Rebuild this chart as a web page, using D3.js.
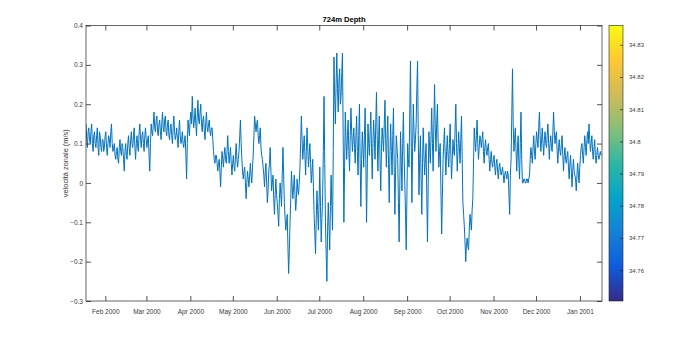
<!DOCTYPE html>
<html>
<head>
<meta charset="utf-8">
<script src="https://cdn.jsdelivr.net/npm/d3@7"></script>
<style>
  html, body { margin: 0; padding: 0; background: #fff; }
  svg { display: block; }
  text { font-family: "Liberation Sans", Arial, Helvetica, sans-serif; }
</style>
</head>
<body>
<svg id="fig" width="700" height="339"></svg>
<script>
// Zonal velocity at 724 m depth, sampled twice a day from 18 Jan 2000:
// velocity = readings at the start of each day, velocityHalf = readings 12 h later
const startDate = Date.UTC(2000, 0, 18, 9);
const velocity = [
  0.15,0.09,0.14,0.10,0.15,0.08,0.13,0.09,0.14,0.07,
  0.12,0.08,0.11,0.09,0.13,0.07,0.12,0.09,0.15,0.08,
  0.10,0.06,0.09,0.05,0.11,0.07,0.09,0.03,0.10,0.06,
  0.12,0.07,0.13,0.09,0.14,0.06,0.12,0.08,0.15,0.09,
  0.13,0.08,0.14,0.09,0.12,0.03,0.15,0.12,0.18,0.13,
  0.17,0.12,0.16,0.11,0.18,0.13,0.17,0.12,0.16,0.11,
  0.15,0.10,0.17,0.11,0.14,0.09,0.16,0.10,0.13,0.09,
  0.12,0.01,0.16,0.12,0.18,0.22,0.14,0.19,0.12,0.21,
  0.15,0.20,0.13,0.17,0.11,0.18,0.13,0.16,0.12,0.14,
  0.08,0.05,0.07,0.03,0.06,-0.01,0.08,0.04,0.09,0.05,
  0.12,0.05,0.09,0.02,0.07,0.03,0.10,0.04,0.08,0.16,
  0.06,0.01,0.04,-0.04,0.03,-0.01,0.05,0.00,0.07,0.17,
  0.13,0.16,0.10,0.14,0.07,0.04,-0.01,0.05,-0.05,0.03,
  0.09,-0.02,0.02,-0.08,0.01,-0.05,-0.11,0.00,-0.06,0.09,
  -0.05,-0.12,-0.08,-0.23,-0.10,0.03,-0.04,0.02,-0.07,0.01,
  -0.03,0.04,0.17,0.06,0.12,0.02,0.14,0.04,0.10,0.00,
  0.06,-0.08,-0.18,-0.02,-0.12,0.04,-0.15,-0.03,0.22,-0.10,
  -0.25,-0.05,-0.17,0.02,-0.12,0.32,0.15,0.33,0.18,0.29,
  0.22,0.33,-0.10,0.18,0.06,0.16,0.03,0.19,0.08,0.14,
  0.05,0.17,0.02,0.20,-0.06,0.13,0.04,0.19,-0.10,0.15,
  0.07,0.18,0.01,0.16,0.06,0.23,0.03,0.17,-0.02,0.14,
  0.08,0.21,0.04,0.17,-0.05,0.15,0.02,0.19,-0.08,0.12,
  0.06,-0.15,0.13,-0.02,0.18,0.00,-0.17,0.10,0.04,0.31,
  -0.05,0.20,0.08,0.15,0.31,-0.03,0.12,-0.08,0.14,0.02,
  0.10,-0.15,0.13,0.05,0.19,0.03,0.25,0.08,0.20,0.04,
  0.10,-0.13,0.06,0.14,0.02,0.12,0.04,0.15,0.01,0.11,
  0.07,0.20,0.03,0.13,0.05,0.17,-0.05,-0.11,-0.20,-0.14,
  -0.17,-0.08,-0.12,-0.04,0.14,0.08,0.16,0.06,0.12,0.09,
  0.13,0.05,0.11,0.07,0.10,0.03,0.08,0.04,0.07,0.02,
  0.06,0.01,0.05,0.02,0.04,0.00,0.03,0.01,0.02,-0.08,
  0.06,0.29,0.08,0.14,0.03,0.12,0.01,0.18,0.00,0.01,
  0.00,0.01,0.00,0.02,0.09,0.05,0.12,0.06,0.13,0.09,
  0.18,0.08,0.14,0.07,0.13,0.09,0.15,0.06,0.12,0.08,
  0.18,0.10,0.13,0.05,0.11,0.07,0.12,0.03,0.09,0.05,
  0.08,0.01,0.07,-0.01,0.06,0.02,-0.02,0.05,0.00,0.07,
  0.10,0.05,0.12,0.07,0.13,0.15,0.08,0.12,0.06,0.11,
  0.05,0.09,0.06,0.08
];
const velocityHalf = [
  0.11,0.13,0.11,0.13,0.10,0.12,0.10,0.12,0.09,0.13,
  0.09,0.11,0.08,0.12,0.09,0.10,0.11,0.13,0.10,0.09,
  0.07,0.08,0.06,0.09,0.08,0.10,0.06,0.08,0.07,0.10,
  0.09,0.11,0.10,0.12,0.09,0.10,0.09,0.13,0.11,0.12,
  0.10,0.12,0.11,0.11,0.07,0.10,0.13,0.15,0.14,0.16,
  0.13,0.15,0.13,0.15,0.14,0.16,0.13,0.15,0.12,0.14,
  0.12,0.14,0.13,0.12,0.11,0.13,0.12,0.11,0.10,0.11,
  0.07,0.10,0.14,0.16,0.15,0.17,0.16,0.15,0.17,0.16,
  0.18,0.15,0.16,0.13,0.15,0.14,0.15,0.13,0.14,0.11,
  0.06,0.07,0.05,0.05,0.03,0.04,0.06,0.07,0.06,0.08,
  0.08,0.07,0.05,0.05,0.04,0.07,0.06,0.06,0.12,0.10,
  0.03,0.03,0.00,0.00,0.01,0.02,0.02,0.04,0.12,0.15,
  0.15,0.12,0.12,0.09,0.06,0.02,0.03,0.00,-0.02,0.05,
  0.03,0.00,-0.04,-0.03,-0.03,-0.08,-0.04,-0.03,0.02,0.02,
  -0.09,-0.10,-0.16,-0.17,-0.04,-0.01,-0.01,-0.03,-0.04,-0.02,
  0.00,0.10,0.11,0.09,0.07,0.08,0.09,0.07,0.05,0.03,
  -0.01,-0.13,-0.09,-0.07,-0.05,-0.06,-0.09,0.08,0.05,-0.18,
  -0.12,-0.11,-0.06,-0.06,0.08,0.22,0.25,0.24,0.26,0.20,
  0.28,0.12,0.04,0.11,0.12,0.08,0.12,0.13,0.11,0.09,
  0.12,0.08,0.12,0.05,0.06,0.09,0.12,0.05,0.03,0.10,
  0.13,0.09,0.10,0.11,0.15,0.12,0.11,0.06,0.08,0.11,
  0.15,0.11,0.12,0.05,0.07,0.08,0.12,0.04,0.03,0.09,
  -0.05,0.00,0.05,0.10,0.07,-0.08,-0.03,0.06,0.18,0.12,
  0.09,0.13,0.11,0.24,0.12,0.06,0.01,0.05,0.07,0.06,
  -0.03,0.00,0.09,0.12,0.10,0.15,0.14,0.15,0.11,0.08,
  -0.02,-0.04,0.10,0.07,0.08,0.07,0.10,0.07,0.06,0.08,
  0.14,0.10,0.08,0.09,0.11,0.06,-0.08,-0.15,-0.16,-0.16,
  -0.12,-0.10,-0.07,0.05,0.11,0.12,0.10,0.09,0.11,0.11,
  0.08,0.09,0.08,0.09,0.06,0.06,0.05,0.06,0.04,0.05,
  0.03,0.04,0.03,0.03,0.02,0.02,0.02,0.03,-0.03,0.02,
  0.17,0.15,0.11,0.08,0.09,0.05,0.10,0.06,0.00,0.01,
  0.00,0.01,0.01,0.06,0.07,0.09,0.08,0.10,0.11,0.14,
  0.12,0.11,0.10,0.11,0.10,0.12,0.10,0.10,0.09,0.13,
  0.13,0.12,0.08,0.09,0.08,0.10,0.07,0.07,0.06,0.07,
  0.04,0.05,0.03,0.03,0.03,0.01,0.02,0.02,0.04,0.09,
  0.07,0.09,0.09,0.11,0.10,0.11,0.10,0.08,0.09,0.07,
  0.07,0.07,0.07,0.07
];

const yTicks = [-0.3, -0.2, -0.1, 0, 0.1, 0.2, 0.3, 0.4];
const colorTicks = [34.76, 34.77, 34.78, 34.79, 34.8, 34.81, 34.82, 34.83];
const colorDomain = [34.7504, 34.836];
const titleText = "724m Depth";
const yLabel = "velocità zonale (m/s)";
// parula colormap stops
const parula = ["#352A87", "#0F5CDD", "#1481D6", "#06A4CA", "#2EB7A4",
                "#87BF77", "#D1BB59", "#FEC832", "#F9FB0E"];

const DAY = 86400000;
const series = [];
velocity.forEach((v, i) => {
  series.push({ t: new Date(startDate + i * DAY), v });
  series.push({ t: new Date(startDate + (i + 0.5) * DAY), v: velocityHalf[i] });
});

const box = { left: 86, right: 602, top: 25.5, bottom: 301 };
const axisColor = "#262626";
const tickLen = 5;

const svg = d3.select("#fig");

const x = d3.scaleUtc()
  .domain([new Date(Date.UTC(2000, 0, 18, 9)), new Date(Date.UTC(2001, 0, 16, 13))])
  .range([box.left, box.right]);
const y = d3.scaleLinear().domain([-0.3, 0.4]).range([box.bottom, box.top]);

const monthTicks = d3.utcMonth.range(new Date(Date.UTC(2000, 1, 1)), new Date(Date.UTC(2001, 0, 2)));
const fmt = d3.utcFormat("%b %Y");

// clip data to the axes box
svg.append("defs").append("clipPath").attr("id", "plotclip")
  .append("rect")
  .attr("x", box.left).attr("y", box.top)
  .attr("width", box.right - box.left).attr("height", box.bottom - box.top);

// velocity trace
const line = d3.line().x(d => x(d.t)).y(d => y(d.v));
svg.append("path")
  .datum(series)
  .attr("clip-path", "url(#plotclip)")
  .attr("fill", "none")
  .attr("stroke", "#0072BD")
  .attr("stroke-width", 1)
  .attr("stroke-linejoin", "round")
  .attr("d", line);

// axes: ticks point inward, mirrored on opposite sides
const bottomAxis = d3.axisBottom(x).tickValues(monthTicks).tickFormat(fmt)
  .tickSizeInner(-tickLen).tickSizeOuter(0).tickPadding(8);
const topAxis = d3.axisTop(x).tickValues(monthTicks).tickFormat("")
  .tickSizeInner(-tickLen).tickSizeOuter(0);
const leftAxis = d3.axisLeft(y).tickValues(yTicks).tickFormat(d3.format("~g"))
  .tickSizeInner(-tickLen).tickSizeOuter(0).tickPadding(3);
const rightAxis = d3.axisRight(y).tickValues(yTicks).tickFormat("")
  .tickSizeInner(-tickLen).tickSizeOuter(0);

function styleAxis(g) {
  g.select(".domain").remove();
  g.selectAll(".tick line").attr("stroke", axisColor).attr("stroke-width", 0.8);
  g.selectAll(".tick text").attr("fill", "#3a3a3a").attr("font-size", 6.5)
    .attr("font-family", "Liberation Sans, Arial, sans-serif");
}

svg.append("g").attr("transform", `translate(0,${box.bottom})`).call(bottomAxis).call(styleAxis);
svg.append("g").attr("transform", `translate(0,${box.top})`).call(topAxis).call(styleAxis);
svg.append("g").attr("transform", `translate(${box.left},0)`).call(leftAxis).call(styleAxis);
svg.append("g").attr("transform", `translate(${box.right},0)`).call(rightAxis).call(styleAxis);

// axes box
svg.append("rect")
  .attr("x", box.left).attr("y", box.top)
  .attr("width", box.right - box.left).attr("height", box.bottom - box.top)
  .attr("fill", "none").attr("stroke", axisColor).attr("stroke-width", 0.7);

// title and y label
svg.append("text")
  .attr("x", (box.left + box.right) / 2).attr("y", 22)
  .attr("text-anchor", "middle").attr("font-size", 7.6).attr("font-weight", "bold")
  .attr("fill", "#000").text(titleText);

svg.append("text")
  .attr("transform", `translate(68,${(box.top + box.bottom) / 2}) rotate(-90)`)
  .attr("text-anchor", "middle").attr("font-size", 7.4)
  .attr("fill", "#3a3a3a").text(yLabel);

// colorbar
const cb = { left: 609, right: 623 };
const c = d3.scaleLinear().domain(colorDomain).range([box.bottom, box.top]);
const grad = svg.select("defs").append("linearGradient")
  .attr("id", "parula").attr("x1", 0).attr("y1", 1).attr("x2", 0).attr("y2", 0);
grad.selectAll("stop").data(parula).join("stop")
  .attr("offset", (d, i) => i / (parula.length - 1))
  .attr("stop-color", d => d);

svg.append("rect")
  .attr("x", cb.left).attr("y", box.top)
  .attr("width", cb.right - cb.left).attr("height", box.bottom - box.top)
  .attr("fill", "url(#parula)")
  .attr("stroke", axisColor).attr("stroke-width", 0.6);

const cbAxis = d3.axisRight(c).tickValues(colorTicks).tickFormat(d3.format("~g"))
  .tickSizeInner(-3).tickSizeOuter(0).tickPadding(6);
svg.append("g").attr("transform", `translate(${cb.right},0)`).call(cbAxis)
  .call(g => {
    g.select(".domain").remove();
    g.selectAll(".tick line").attr("stroke", axisColor).attr("stroke-width", 0.7);
    g.selectAll(".tick text").attr("fill", "#3a3a3a").attr("font-size", 6);
  });
</script>
</body>
</html>
